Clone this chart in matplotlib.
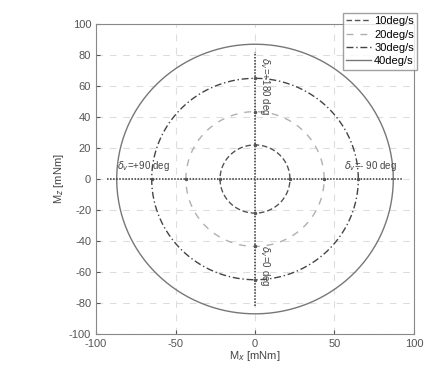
import numpy as np
import matplotlib.pyplot as plt

plt.rcParams['font.family'] = ['Liberation Sans', 'DejaVu Sans']
plt.rcParams['axes.unicode_minus'] = False

speeds = ['10deg/s', '20deg/s', '30deg/s', '40deg/s']
radii = [22, 43.5, 65, 87]
styles = [(0, (4, 2)), (0, (5, 5)), (0, (5, 2, 1, 2)), '-']
colors = ['#555555', '#b0b0b0', '#444444', '#777777']

# dotted cross lines along the axes
h_line_x = [-93, 93]
v_line_y = [-82, 82]

fig = plt.figure(figsize=(4.25, 3.65), dpi=100)
ax = fig.add_axes([0.226, 0.085, 0.748, 0.849])

t = np.linspace(0, 2 * np.pi, 400)
for name, r, ls, c in zip(speeds, radii, styles, colors):
    ax.plot(r * np.cos(t), r * np.sin(t), linestyle=ls, color=c, lw=1.0, label=name)

ax.plot(h_line_x, [0, 0], color='#333333', linestyle=(0, (1, 1)), lw=1.1)
ax.plot([0, 0], v_line_y, color='#333333', linestyle=(0, (1, 1)), lw=1.1)

# markers where circles cross the axes
for r in radii[:3]:
    ax.plot([r, -r, 0, 0], [0, 0, r, -r], 'o', color='#555555', ms=1.5)

ax.text(-87, 4, r'$\delta_v$=+90 deg', fontsize=7, color='#444444', va='bottom')
ax.text(56, 4, r'$\delta_v$=- 90 deg', fontsize=7, color='#444444', va='bottom')
ax.text(2, 60, r'$\delta_v$=+180 deg', fontsize=7, color='#444444', rotation=-90,
        ha='left', va='center')
ax.text(2, -56, r'$\delta_v$=0 deg', fontsize=7, color='#444444', rotation=-90,
        ha='left', va='center')

ax.set_xlim(-100, 100)
ax.set_ylim(-100, 100)
ax.set_xticks([-100, -50, 0, 50, 100])
ax.set_yticks(range(-100, 101, 20))
ax.grid(True, linestyle=(0, (6, 6)), color='#dddddd', lw=0.8)
ax.tick_params(labelsize=8, colors='#555555', direction='in', length=3)
for s in ax.spines.values():
    s.set_color('#888888')
ax.set_xlabel(r'M$_x$ [mNm]', fontsize=8, color='#444444', labelpad=0)
ax.set_ylabel(r'M$_z$ [mNm]', fontsize=8, color='#444444', labelpad=2)

fig.legend(loc='upper right', bbox_to_anchor=(0.995, 0.98), fontsize=8,
           frameon=True, fancybox=False, edgecolor='#888888', handlelength=2.2,
           borderpad=0.3, labelspacing=0.3, handletextpad=0.3)

fig.savefig('out.png', dpi=100)
